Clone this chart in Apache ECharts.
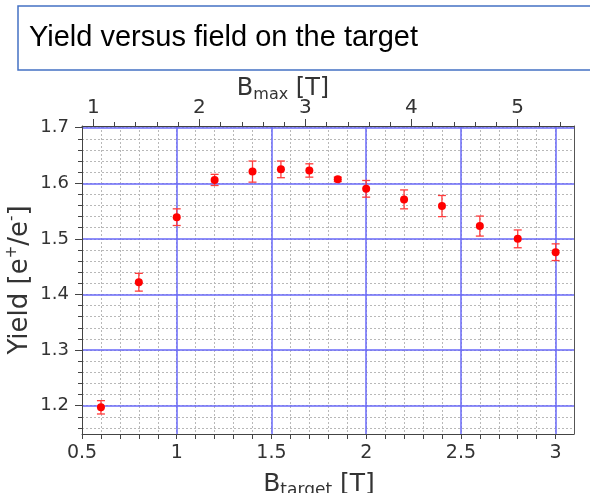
<!DOCTYPE html>
<html>
<head>
<meta charset="utf-8">
<script src="https://cdn.jsdelivr.net/npm/echarts@6/dist/echarts.min.js"></script>
<style>
html,body{margin:0;padding:0;background:#fff;}
#chart{width:590px;height:493px;}
</style>
</head>
<body>
<div id="chart"></div>
<script>
// ---- data ----
const bTarget = [0.6, 0.8, 1.0, 1.2, 1.4, 1.55, 1.7, 1.85, 2.0, 2.2, 2.4, 2.6, 2.8, 3.0];
const yieldVals = [1.197, 1.422, 1.539, 1.606, 1.621, 1.625, 1.623, 1.607, 1.590, 1.571, 1.559, 1.523, 1.500, 1.476];
const yieldErr = [0.012, 0.016, 0.015, 0.010, 0.019, 0.015, 0.012, 0.004, 0.015, 0.017, 0.019, 0.018, 0.016, 0.015];

// ---- tick labels ----
const bottomLabels = [0.5, 1, 1.5, 2, 2.5, 3];
const bottomMajorGrid = [1, 1.5, 2, 2.5, 3];
const leftLabels = [1.2, 1.3, 1.4, 1.5, 1.6, 1.7];
const topLabels = [1, 2, 3, 4, 5];

function steps(a, b, s) {
  const out = [];
  const n = Math.round((b - a) / s);
  for (let i = 0; i <= n; i++) out.push(+(a + i * s).toFixed(3));
  return out;
}
const bottomMinor = steps(0.5, 3.1, 0.1);
const leftMinor = steps(1.16, 1.7, 0.02);
const topMinor = steps(1.0, 5.4, 0.2);

const X_MIN = 0.5, X_MAX = 3.097;
const Y_MIN = 1.149, Y_MAX = 1.703;
const T_MIN = 0.894, T_MAX = 5.532;

const points = bTarget.map((x, i) => [x, yieldVals[i]]);
const errData = bTarget.map((x, i) => [x, yieldVals[i], yieldErr[i]]);

const axisCol = '#444';
const blue = '#6868f8';
const gray = '#b8b8b8';
const FF = '"DejaVu Sans", sans-serif';

const chart = echarts.init(document.getElementById('chart'), null, {renderer: 'canvas'});

const hiddenParts = {
  axisLine: {show: false},
  axisLabel: {show: false}
};

chart.setOption({
  animation: false,
  backgroundColor: '#fff',
  grid: {left: 82, right: 16, top: 126, bottom: 59, containLabel: false, outerBoundsMode: 'none'},
  graphic: [
    {type: 'rect', shape: {x: 18, y: 6, width: 640, height: 64}, style: {fill: '#fff', stroke: '#4472c4', lineWidth: 1.5}, z: 10},
    {type: 'text', x: 29, y: 38, style: {text: 'Yield versus field on the target', fontSize: 29, fontFamily: '"Liberation Sans", Arial, sans-serif', fill: '#000', verticalAlign: 'middle'}, z: 11}
  ],
  xAxis: [
    { // 0 main bottom axis
      type: 'value', position: 'bottom', min: X_MIN, max: X_MAX, z: 3,
      axisLine: {show: true, lineStyle: {color: axisCol, width: 1}},
      axisTick: {show: true, inside: false, length: 5, customValues: bottomMinor, lineStyle: {color: axisCol}},
      axisLabel: {show: true, customValues: bottomLabels, fontSize: 19, fontFamily: FF, color: '#333', margin: 10},
      splitLine: {show: false},
      name: '{b|B}{s|target}{b| [T]}',
      nameLocation: 'middle', nameGap: 35, nameMoveOverlap: false,
      nameTextStyle: {
        padding: [0, 18, 0, 0],
        rich: {
          b: {fontSize: 25, fontFamily: FF, color: '#333', lineHeight: 30},
          s: {fontSize: 17, fontFamily: FF, color: '#333', lineHeight: 14, verticalAlign: 'bottom'}
        }
      }
    },
    { // 1 minor grid
      type: 'value', position: 'bottom', min: X_MIN, max: X_MAX, z: 0,
      ...hiddenParts,
      axisTick: {show: false, customValues: bottomMinor},
      splitLine: {show: true, lineStyle: {color: gray, width: 1, type: [2, 2]}}
    },
    { // 2 major grid
      type: 'value', position: 'bottom', min: X_MIN, max: X_MAX, z: 1,
      ...hiddenParts,
      axisTick: {show: false, customValues: bottomMajorGrid},
      splitLine: {show: true, lineStyle: {color: blue, width: 1.5}}
    },
    { // 3 top axis B_max (major)
      type: 'value', position: 'top', min: T_MIN, max: T_MAX, z: 3,
      axisLine: {show: true, lineStyle: {color: axisCol, width: 1}},
      axisTick: {show: true, inside: false, length: 7, customValues: topLabels, lineStyle: {color: axisCol}},
      axisLabel: {show: true, customValues: topLabels, fontSize: 20, fontFamily: FF, color: '#333', margin: 8},
      splitLine: {show: false},
      name: '{b|B}{s|max}{b| [T]}',
      nameLocation: 'middle', nameGap: 23, nameMoveOverlap: false,
      nameTextStyle: {
        padding: [0, 90, 0, 0],
        rich: {
          b: {fontSize: 24, fontFamily: FF, color: '#333', lineHeight: 28},
          s: {fontSize: 16, fontFamily: FF, color: '#333', lineHeight: 13, verticalAlign: 'bottom'}
        }
      }
    },
    { // 4 top minor ticks
      type: 'value', position: 'top', min: T_MIN, max: T_MAX, z: 3,
      axisLine: {show: false},
      axisLabel: {show: false},
      axisTick: {show: true, inside: false, length: 4, customValues: topMinor, lineStyle: {color: axisCol}},
      splitLine: {show: false}
    }
  ],
  yAxis: [
    { // 0 main left axis
      type: 'value', position: 'left', min: Y_MIN, max: Y_MAX, z: 3,
      axisLine: {show: true, lineStyle: {color: axisCol, width: 1}},
      axisTick: {show: true, inside: false, length: 7, customValues: leftLabels, lineStyle: {color: axisCol}},
      axisLabel: {show: true, customValues: leftLabels, fontSize: 18, fontFamily: FF, color: '#333', margin: 13,
        formatter: v => v.toFixed(1)},
      splitLine: {show: false},
      name: '{b|Yield [e}{p|+}{b|/e}{p|-}{b|]}',
      nameLocation: 'middle', nameGap: 47, nameMoveOverlap: false,
      nameTextStyle: {
        rich: {
          b: {fontSize: 26, fontFamily: FF, color: '#333', lineHeight: 30},
          p: {fontSize: 15, fontFamily: FF, color: '#333', lineHeight: 14, verticalAlign: 'top'}
        }
      }
    },
    { // 1 minor ticks + minor grid
      type: 'value', position: 'left', min: Y_MIN, max: Y_MAX, z: 0,
      axisLine: {show: false},
      axisLabel: {show: false},
      axisTick: {show: true, inside: false, length: 4, customValues: leftMinor, lineStyle: {color: axisCol}},
      splitLine: {show: true, lineStyle: {color: gray, width: 1, type: [2, 2]}}
    },
    { // 2 major grid
      type: 'value', position: 'left', min: Y_MIN, max: Y_MAX, z: 1,
      ...hiddenParts,
      axisTick: {show: false, customValues: leftLabels},
      splitLine: {show: true, lineStyle: {color: blue, width: 1.5}}
    },
    { // 3 right border
      type: 'value', position: 'right', min: Y_MIN, max: Y_MAX, z: 3,
      axisLine: {show: true, lineStyle: {color: '#555', width: 1}},
      axisTick: {show: false},
      axisLabel: {show: false},
      splitLine: {show: false}
    }
  ],
  series: [
    {
      type: 'custom', xAxisIndex: 0, yAxisIndex: 0, z: 5,
      data: errData,
      renderItem: function (params, api) {
        const x = api.value(0), y = api.value(1), e = api.value(2);
        const top = api.coord([x, y + e]);
        const bot = api.coord([x, y - e]);
        const hw = 4;
        const st = {stroke: '#ff3c3c', lineWidth: 1.3};
        return {
          type: 'group',
          children: [
            {type: 'line', shape: {x1: top[0], y1: top[1], x2: bot[0], y2: bot[1]}, style: st},
            {type: 'line', shape: {x1: top[0] - hw, y1: top[1], x2: top[0] + hw, y2: top[1]}, style: st},
            {type: 'line', shape: {x1: bot[0] - hw, y1: bot[1], x2: bot[0] + hw, y2: bot[1]}, style: st}
          ]
        };
      }
    },
    {
      type: 'scatter', xAxisIndex: 0, yAxisIndex: 0, z: 6,
      data: points,
      symbol: 'circle', symbolSize: 8,
      itemStyle: {color: '#ff0000', opacity: 1}
    }
  ]
});
</script>
</body>
</html>
